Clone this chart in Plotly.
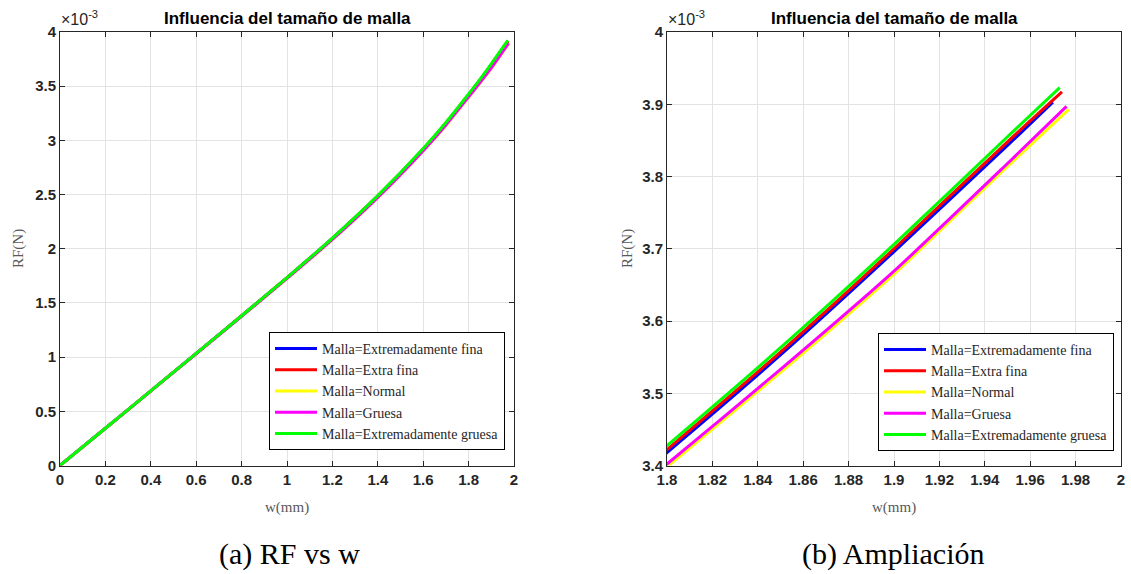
import plotly.graph_objects as go

# ---------------- data (RF in units of 1e-3 N) ----------------
series_names = [
    "Malla=Extremadamente fina",
    "Malla=Extra fina",
    "Malla=Normal",
    "Malla=Gruesa",
    "Malla=Extremadamente gruesa",
]
series_colors = ["#0000ff", "#ff0000", "#ffff00", "#ff00ff", "#00ff00"]

w_ext_fina = [0, 0.2, 0.4, 0.6, 0.8, 1.0, 1.2, 1.4, 1.6, 1.7, 1.8, 1.85, 1.9, 1.95, 1.970]
rf_ext_fina = [0, 0.344, 0.688, 1.034, 1.381, 1.732, 2.096, 2.486, 2.918, 3.157, 3.418, 3.553, 3.696, 3.843, 3.903]

w_extra_fina = [0, 0.2, 0.4, 0.6, 0.8, 1.0, 1.2, 1.4, 1.6, 1.7, 1.8, 1.85, 1.9, 1.95, 1.974]
rf_extra_fina = [0, 0.344, 0.688, 1.034, 1.382, 1.733, 2.097, 2.488, 2.921, 3.161, 3.422, 3.557, 3.700, 3.848, 3.917]

w_normal = [0, 0.2, 0.4, 0.6, 0.8, 1.0, 1.2, 1.4, 1.6, 1.7, 1.8, 1.85, 1.9, 1.95, 1.977]
rf_normal = [0, 0.343, 0.686, 1.031, 1.376, 1.725, 2.084, 2.471, 2.902, 3.138, 3.398, 3.529, 3.665, 3.814, 3.893]

w_gruesa = [0, 0.2, 0.4, 0.6, 0.8, 1.0, 1.2, 1.4, 1.6, 1.7, 1.8, 1.85, 1.9, 1.95, 1.976]
rf_gruesa = [0, 0.343, 0.686, 1.031, 1.377, 1.726, 2.086, 2.474, 2.905, 3.142, 3.402, 3.533, 3.669, 3.818, 3.897]

w_ext_gruesa = [0, 0.2, 0.4, 0.6, 0.8, 1.0, 1.2, 1.4, 1.6, 1.7, 1.8, 1.85, 1.9, 1.95, 1.973]
rf_ext_gruesa = [0, 0.344, 0.688, 1.034, 1.382, 1.734, 2.098, 2.490, 2.925, 3.165, 3.4275, 3.563, 3.706, 3.855, 3.923]

series_w = [w_ext_fina, w_extra_fina, w_normal, w_gruesa, w_ext_gruesa]
series_rf = [rf_ext_fina, rf_extra_fina, rf_normal, rf_gruesa, rf_ext_gruesa]

title_text = "Influencia del tamaño de malla"
xlabel = "w(mm)"
ylabel = "RF(N)"
captions = ["(a) RF vs w", "(b) Ampliación"]

left_xticks = [0, 0.2, 0.4, 0.6, 0.8, 1, 1.2, 1.4, 1.6, 1.8, 2]
left_yticks = [0, 0.5, 1, 1.5, 2, 2.5, 3, 3.5, 4]
right_xticks = [1.8, 1.82, 1.84, 1.86, 1.88, 1.9, 1.92, 1.94, 1.96, 1.98, 2]
right_yticks = [3.4, 3.5, 3.6, 3.7, 3.8, 3.9, 4]

# ---------------- figure ----------------
W, H = 1131, 574
fig = go.Figure()

for name, color, xs, ys in zip(series_names, series_colors, series_w, series_rf):
    fig.add_trace(go.Scatter(x=xs, y=ys, mode="lines", name=name,
                             line=dict(color=color, width=3, shape="spline", smoothing=0.6),
                             xaxis="x", yaxis="y", legend="legend"))
for name, color, xs, ys in zip(series_names, series_colors, series_w, series_rf):
    fig.add_trace(go.Scatter(x=xs, y=ys, mode="lines", name=name,
                             line=dict(color=color, width=3, shape="spline", smoothing=0.6),
                             xaxis="x2", yaxis="y2", legend="legend2"))

SANS = "Liberation Sans Narrow, Arial Narrow, Liberation Sans, Arial"
SERIF = "Liberation Serif, Times New Roman, serif"
tickfont = dict(family=SANS, size=15, color="#262626", weight="bold")
axis_common = dict(showline=True, linecolor="#262626", linewidth=1, mirror="ticks",
                   ticks="inside", ticklen=5, tickcolor="#262626",
                   showgrid=True, gridcolor="#e3e3e3", gridwidth=1,
                   zeroline=False, tickfont=tickfont, fixedrange=True,
                   automargin=False)

def px_x(p):
    return p / W

def px_y(p):
    return 1 - p / H

ydom = [px_y(465.5), px_y(32)]
legend_font = dict(family=SERIF, size=14, color="#262626")
fig.update_layout(
    width=W, height=H,
    margin=dict(l=0, r=0, t=0, b=0, autoexpand=False),
    paper_bgcolor="white", plot_bgcolor="white",
    xaxis=dict(domain=[px_x(60), px_x(514)], range=[0, 2], tickvals=left_xticks,
               anchor="y", **axis_common),
    yaxis=dict(domain=ydom, range=[0, 4], tickvals=left_yticks, anchor="x",
               **axis_common),
    xaxis2=dict(domain=[px_x(667), px_x(1121)], range=[1.8, 2], tickvals=right_xticks,
                anchor="y2", **axis_common),
    yaxis2=dict(domain=ydom, range=[3.4, 4], tickvals=right_yticks, anchor="x2",
                **axis_common),
    legend=dict(x=px_x(269), y=px_y(332), xanchor="left", yanchor="top",
                bgcolor="white", bordercolor="#000000", borderwidth=1,
                font=legend_font, itemwidth=42, tracegroupgap=0),
    legend2=dict(x=px_x(878), y=px_y(333), xanchor="left", yanchor="top",
                 bgcolor="white", bordercolor="#000000", borderwidth=1,
                 font=legend_font, itemwidth=42, tracegroupgap=0),
    showlegend=True,
)

annots = []
title_font = dict(family=SANS, size=17, color="#000000", weight="bold")
label_font = dict(family=SERIF, size=15, color="#595959")
cap_font = dict(family=SERIF, size=30, color="#000000")
for (x0, x1), ylab_x in [((60, 514), 18), ((667, 1121), 627)]:
    cx = (x0 + x1) / 2
    annots.append(dict(text=title_text, x=px_x(cx), y=px_y(19), xref="paper", yref="paper",
                       showarrow=False, font=title_font, xanchor="center", yanchor="middle"))
    annots.append(dict(text=xlabel, x=px_x(cx), y=px_y(507), xref="paper", yref="paper",
                       showarrow=False, font=label_font, xanchor="center", yanchor="middle"))
    annots.append(dict(text=ylabel, x=px_x(ylab_x), y=px_y(249), xref="paper", yref="paper",
                       showarrow=False, font=label_font, textangle=-90,
                       xanchor="center", yanchor="middle"))
    annots.append(dict(text="×10<sup>-3</sup>", x=px_x(x0 - 1), y=px_y(30), xref="paper", yref="paper",
                       showarrow=False, xanchor="left", yanchor="bottom",
                       font=dict(family=SANS, size=16, color="#262626")))
annots.append(dict(text=captions[0], x=px_x(289), y=px_y(554), xref="paper", yref="paper",
                   showarrow=False, font=cap_font, xanchor="center", yanchor="middle"))
annots.append(dict(text=captions[1], x=px_x(893), y=px_y(554), xref="paper", yref="paper",
                   showarrow=False, font=cap_font, xanchor="center", yanchor="middle"))
fig.update_layout(annotations=annots)

fig.write_html("out.html", config={"displayModeBar": False},
               post_script="document.body.style.margin='0';document.body.style.padding='0';"
                           "document.body.style.overflow='hidden';")
